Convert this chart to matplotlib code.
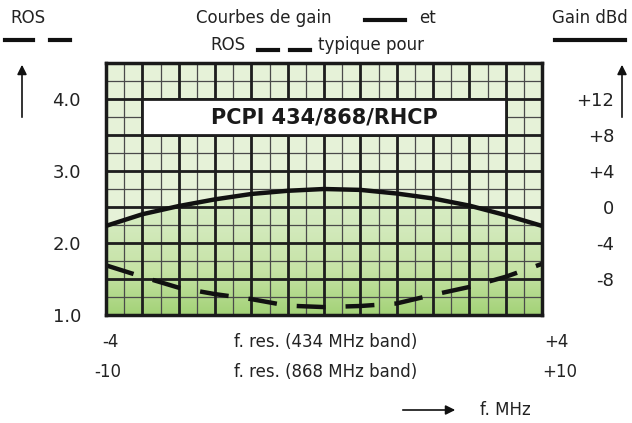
import matplotlib
matplotlib.use("Agg")
import matplotlib.pyplot as plt
from matplotlib.patches import Rectangle, FancyArrowPatch
from matplotlib.lines import Line2D
from matplotlib.colors import LinearSegmentedColormap
import numpy as np

# offset from resonance, 434 MHz band (MHz)
freq_off = [-4, -3.33, -2.67, -2, -1.33, -0.67, 0, 0.67, 1.33, 2, 2.67, 3.33, 4]
gain_dbd = [-2.1, -0.8, 0.1, 0.85, 1.45, 1.8, 2.0, 1.9, 1.5, 0.95, 0.15, -0.9, -2.1]
ros = [1.69, 1.53, 1.38, 1.29, 1.22, 1.13, 1.11, 1.125, 1.16, 1.28, 1.39, 1.53, 1.71]

ros_ticks = [1.0, 2.0, 3.0, 4.0]
ros_labels = ["1.0", "2.0", "3.0", "4.0"]
gain_ticks = [-8, -4, 0, 4, 8, 12]
gain_labels = ["-8", "-4", "0", "+4", "+8", "+12"]

W, H = 632, 423
fig = plt.figure(figsize=(W / 100, H / 100), dpi=100)
plt.rcParams['font.family'] = ['DejaVu Sans']

ax = fig.add_axes([106 / W, 1 - 315 / H, 436 / W, 252 / H])
ax.set_xlim(-4, 4)
ax.set_ylim(1.0, 4.5)

# background: green gradient, pale above gain curve
cmap = LinearSegmentedColormap.from_list("g", ["#a3d277", "#c6e3a6", "#d3eabd", "#dbeec8"])
grad = np.linspace(0, 1, 256).reshape(-1, 1)
ax.imshow(grad, extent=[-4, 4, 1.0, 2.85], origin="lower", cmap=cmap,
          aspect="auto", zorder=0)

gain_as_ros = [1 + (g + 12) / 8 for g in gain_dbd]
ax.fill_between(freq_off, gain_as_ros, 4.5, color="#e6f2d8", zorder=0.5, lw=0)

# grid
maj_x = np.linspace(-4, 4, 13)
min_x = np.linspace(-4, 4, 25)
for x in min_x:
    ax.axvline(x, color="#4a4a4a", lw=0.9, zorder=1)
for x in maj_x:
    ax.axvline(x, color="#1e1e1e", lw=2.0, zorder=1.1)
for y in np.arange(1.0, 4.51, 0.25):
    ax.axhline(y, color="#4a4a4a", lw=0.9, zorder=1)
for y in np.arange(1.0, 4.51, 0.5):
    ax.axhline(y, color="#1e1e1e", lw=2.0, zorder=1.1)

# title box
ax.add_patch(Rectangle((maj_x[1], 3.5), maj_x[11] - maj_x[1], 0.5,
                       facecolor="white", edgecolor="#1e1e1e", lw=2.0, zorder=2))
ax.text(0, 3.75, "PCPI 434/868/RHCP", ha="center", va="center",
        fontsize=15, fontweight="bold", color="#1a1a1a", zorder=3)

ax.set_xticks([])
ax.set_yticks(ros_ticks)
ax.set_yticklabels(ros_labels, fontsize=13, color="#222222")
ax.tick_params(axis="y", length=0, pad=18)
for s in ax.spines.values():
    s.set_linewidth(2.5)
    s.set_color("#1a1a1a")
    s.set_zorder(5)

# ROS curve (dashed)
ax.plot(freq_off, ros, color="#111111", lw=3.2, dashes=(6.5, 4.5),
        solid_capstyle="butt", zorder=4)

# gain curve on its own scale
ax2 = ax.twinx()
ax2.set_ylim(-12, 16)
ax2.plot(freq_off, gain_dbd, color="#111111", lw=3.2, zorder=4)
ax2.set_yticks(gain_ticks)
ax2.set_yticklabels(gain_labels, fontsize=13, color="#222222", ha="right")
ax2.tick_params(axis="y", length=0, pad=52)
for s in ax2.spines.values():
    s.set_visible(False)


def fx(px):
    return px / W


def fy(py):
    return 1 - py / H


tc = "#222222"
fig.text(fx(28), fy(18), "ROS", ha="center", va="center", fontsize=12, color=tc)
fig.add_artist(Line2D([fx(5), fx(33)], [fy(40), fy(40)], color="#111111", lw=3))
fig.add_artist(Line2D([fx(50), fx(70)], [fy(40), fy(40)], color="#111111", lw=3))

fig.text(fx(590), fy(18), "Gain dBd", ha="center", va="center", fontsize=12, color=tc)
fig.add_artist(Line2D([fx(555), fx(625)], [fy(40), fy(40)], color="#111111", lw=3))

fig.text(fx(332), fy(18), "Courbes de gain", ha="right", va="center", fontsize=12, color=tc)
fig.add_artist(Line2D([fx(365), fx(405)], [fy(20), fy(20)], color="#111111", lw=3))
fig.text(fx(428), fy(18), "et", ha="center", va="center", fontsize=12, color=tc)

fig.text(fx(246), fy(45), "ROS", ha="right", va="center", fontsize=12, color=tc)
fig.add_artist(Line2D([fx(258), fx(278)], [fy(50), fy(50)], color="#111111", lw=3))
fig.add_artist(Line2D([fx(290), fx(310)], [fy(50), fy(50)], color="#111111", lw=3))
fig.text(fx(318), fy(45), "typique pour", ha="left", va="center", fontsize=12, color=tc)

arrow = dict(arrowstyle="-|>", color="#111111", lw=1.2, mutation_scale=14)
fig.add_artist(FancyArrowPatch((fx(22), fy(120)), (fx(22), fy(62)),
               transform=fig.transFigure, **arrow))
fig.add_artist(FancyArrowPatch((fx(622), fy(120)), (fx(622), fy(62)),
               transform=fig.transFigure, **arrow))
fig.add_artist(FancyArrowPatch((fx(400), fy(410)), (fx(458), fy(410)),
               transform=fig.transFigure, **arrow))
fig.text(fx(480), fy(410), "f. MHz", ha="left", va="center", fontsize=12, color=tc)

fig.text(fx(110), fy(342), "-4", ha="center", va="center", fontsize=12, color=tc)
fig.text(fx(326), fy(342), "f. res. (434 MHz band)", ha="center", va="center", fontsize=12, color=tc)
fig.text(fx(556), fy(342), "+4", ha="center", va="center", fontsize=12, color=tc)
fig.text(fx(108), fy(372), "-10", ha="center", va="center", fontsize=12, color=tc)
fig.text(fx(326), fy(372), "f. res. (868 MHz band)", ha="center", va="center", fontsize=12, color=tc)
fig.text(fx(560), fy(372), "+10", ha="center", va="center", fontsize=12, color=tc)

fig.savefig("out.png", dpi=100)
